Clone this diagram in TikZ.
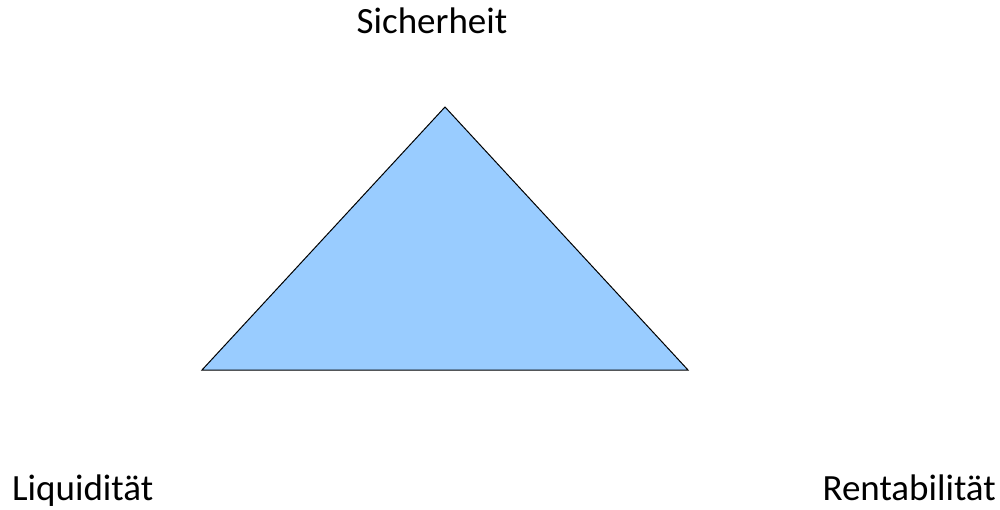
\documentclass[tikz,border=0pt]{standalone}
\usepackage{fontspec}
\setmainfont{Carlito}
\definecolor{triblue}{HTML}{99CCFF}
\begin{document}
\begin{tikzpicture}[x=1pt, y=-1pt]
  \tikzset{
    lbl/.style={inner sep=0pt, font=\fontsize{37}{44}\selectfont},
    tri/.style={fill=triblue, draw=black, line width=1pt, line join=miter},
  }

  \useasboundingbox (0,0) rectangle (1000,510);

  \coordinate (top) at (445,107);
  \coordinate (left) at (202,370);
  \coordinate (right) at (688,370);
  \draw[tri] (top) -- (right) -- (left) -- cycle;

  \node[lbl, anchor=base] (sicher) at (432,34) {Sicherheit};
  \node[lbl, anchor=base west] (liquid) at (12,500) {Liquidität};
  \node[lbl, anchor=base east] (rendite) at (996,500) {Rentabilität};
\end{tikzpicture}
\end{document}
